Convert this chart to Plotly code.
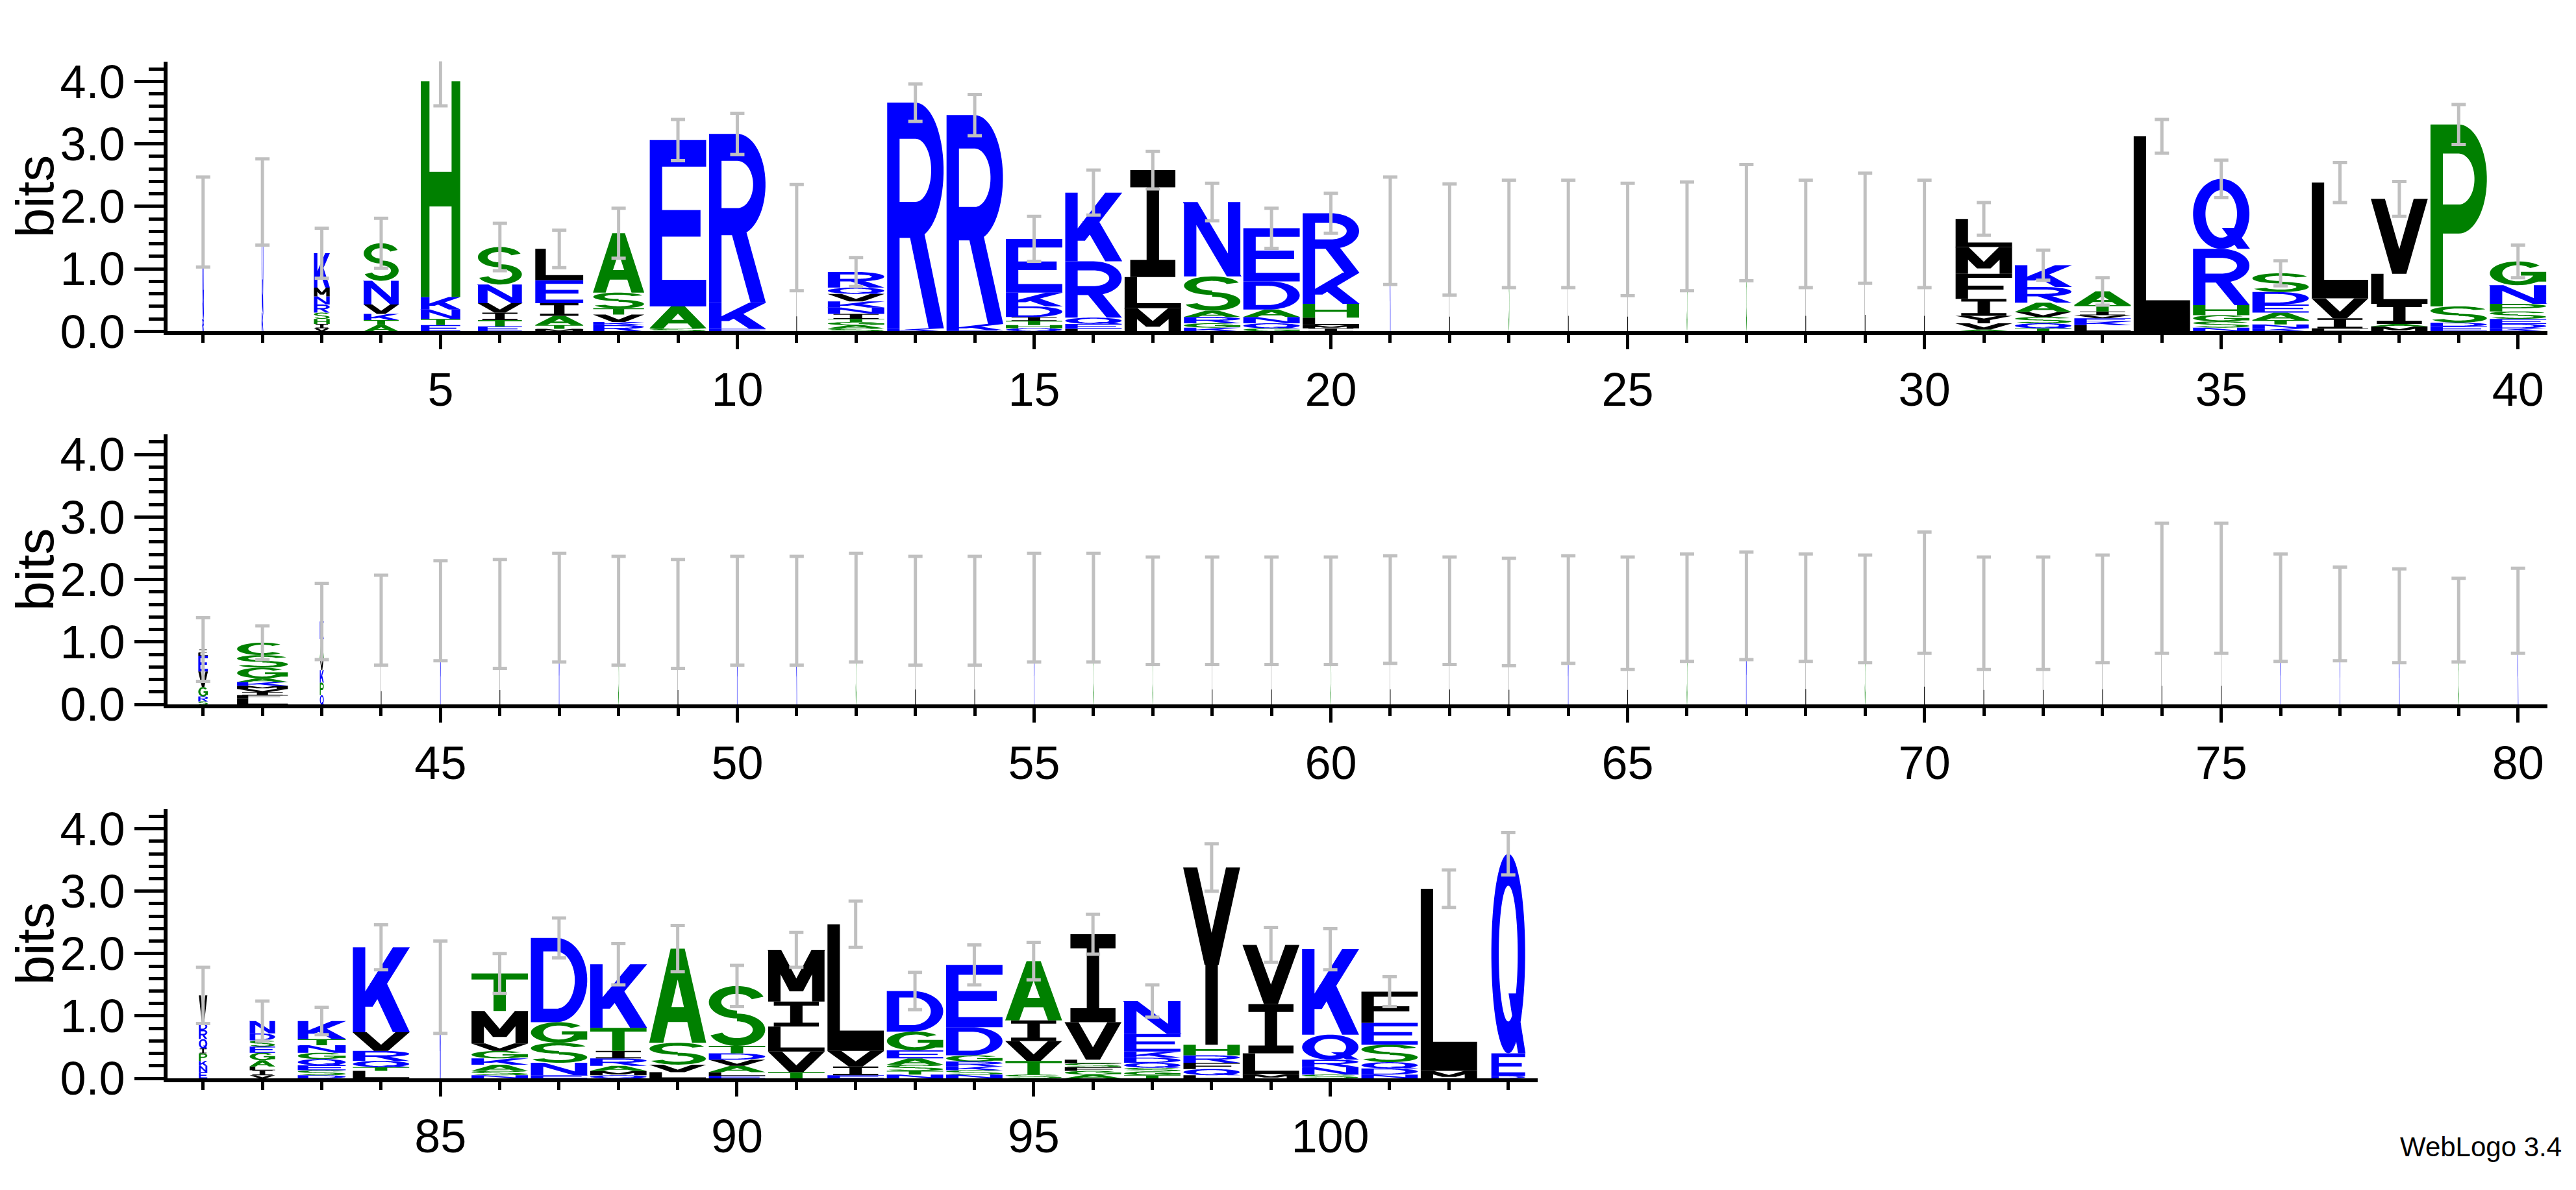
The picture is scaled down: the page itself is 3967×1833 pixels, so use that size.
import numpy as np
import plotly.graph_objects as go

# ---- data: stacks are (letter, bits) from bottom to top ----
start1 = 1
stacks1 = [
    [("R", 0.2), ("Q", 1.55)],
    [("K", 0.3), ("Q", 1.77)],
    [("V", 0.05), ("I", 0.07), ("H", 0.08), ("S", 0.1), ("R", 0.13), ("N", 0.13), ("M", 0.14), ("K", 0.55)],
    [("A", 0.1), ("T", 0.08), ("K", 0.1), ("V", 0.15), ("N", 0.38), ("S", 0.6)],
    [("E", 0.1), ("T", 0.1), ("N", 0.15), ("K", 0.2), ("H", 3.45)],
    [("E", 0.08), ("T", 0.1), ("I", 0.12), ("V", 0.15), ("N", 0.3), ("S", 0.6)],
    [("M", 0.04), ("T", 0.06), ("A", 0.15), ("I", 0.2), ("E", 0.37), ("L", 0.5)],
    [("R", 0.1), ("K", 0.05), ("V", 0.12), ("T", 0.1), ("S", 0.25), ("A", 0.95)],
    [("S", 0.05), ("A", 0.35), ("E", 2.66)],
    [("E", 0.04), ("K", 0.42), ("R", 2.7)],
    [("L", 1.5)],
    [("S", 0.05), ("A", 0.05), ("G", 0.05), ("T", 0.05), ("I", 0.08), ("N", 0.1), ("K", 0.1), ("V", 0.12), ("Q", 0.1), ("R", 0.25)],
    [("K", 0.05), ("R", 3.61)],
    [("E", 0.02), ("K", 0.1), ("R", 3.34)],
    [("Q", 0.05), ("H", 0.05), ("T", 0.07), ("I", 0.06), ("D", 0.17), ("K", 0.22), ("E", 0.86)],
    [("L", 0.04), ("E", 0.08), ("Q", 0.1), ("R", 0.9), ("K", 1.1)],
    [("M", 0.37), ("L", 0.5), ("I", 1.71)],
    [("K", 0.06), ("G", 0.07), ("R", 0.1), ("A", 0.1), ("S", 0.55), ("N", 1.19)],
    [("G", 0.05), ("Q", 0.08), ("N", 0.1), ("A", 0.12), ("D", 0.45), ("E", 0.85)],
    [("I", 0.05), ("M", 0.05), ("L", 0.12), ("H", 0.22), ("K", 0.5), ("R", 0.95)],
    [("K", 1.61)], [("L", 1.47)], [("S", 1.56)], [("L", 1.56)], [("L", 1.47)],
    [("S", 1.52)], [("S", 1.74)], [("L", 1.56)], [("L", 1.65)], [("L", 1.56)],
    [("A", 0.03), ("V", 0.1), ("Y", 0.12), ("I", 0.27), ("F", 0.4), ("M", 0.43), ("L", 0.45)],
    [("T", 0.05), ("Q", 0.08), ("S", 0.1), ("V", 0.08), ("A", 0.15), ("R", 0.25), ("K", 0.35)],
    [("L", 0.1), ("K", 0.06), ("E", 0.05), ("V", 0.05), ("I", 0.06), ("T", 0.1), ("A", 0.22)],
    [("L", 3.12)],
    [("N", 0.06), ("S", 0.1), ("G", 0.1), ("H", 0.16), ("R", 0.9), ("Q", 1.12)],
    [("K", 0.05), ("N", 0.06), ("T", 0.07), ("A", 0.12), ("E", 0.13), ("D", 0.2), ("S", 0.3)],
    [("F", 0.05), ("I", 0.16), ("V", 0.32), ("L", 1.85)],
    [("M", 0.08), ("A", 0.04), ("I", 0.32), ("L", 0.48), ("V", 1.2)],
    [("E", 0.08), ("D", 0.06), ("S", 0.26), ("P", 2.91)],
    [("K", 0.05), ("D", 0.07), ("E", 0.08), ("S", 0.12), ("P", 0.12), ("N", 0.3), ("G", 0.38)],
]
widths1 = [0.03, 0.03, 0.28, 0.62, 0.7, 0.78, 0.85, 0.9, 1, 1, 0.012, 1, 1, 1, 1, 1, 1, 1, 1, 1,
           0.012, 0.012, 0.012, 0.012, 0.012, 0.012, 0.012, 0.012, 0.012, 0.012,
           1, 1, 1, 1, 1, 1, 1, 1, 1, 1]
err1 = [0.72, 0.69, 0.4, 0.4, 0.39, 0.38, 0.3, 0.4, 0.33, 0.33, 0.85, 0.23, 0.3, 0.33, 0.36, 0.36,
        0.3, 0.3, 0.32, 0.32, 0.86, 0.89, 0.86, 0.86, 0.9, 0.87, 0.93, 0.86, 0.88, 0.86,
        0.26, 0.24, 0.22, 0.27, 0.3, 0.2, 0.32, 0.28, 0.32, 0.26]

start2 = 41
gap_letters2 = ["L", "K", "L", "K", "S", "L", "K", "K", "S", "L", "L", "K", "S", "S", "L", "L", "S",
                "L", "L", "L", "K", "L", "S", "K", "L", "S", "L", "L", "L", "L", "L", "L", "K", "K",
                "K", "S", "K"]
gap_tops2 = [1.35, 1.5, 1.45, 1.55, 1.5, 1.45, 1.5, 1.5, 1.55, 1.5, 1.5, 1.55, 1.55, 1.5, 1.5, 1.5,
             1.5, 1.52, 1.5, 1.48, 1.52, 1.46, 1.55, 1.58, 1.55, 1.53, 1.79, 1.46, 1.46, 1.53, 1.86,
             1.86, 1.55, 1.45, 1.42, 1.35, 1.5]
stacks2 = [
    [("S", 0.05), ("R", 0.08), ("G", 0.15), ("V", 0.25), ("E", 0.25), ("L", 0.05), ("I", 0.05)],
    [("L", 0.1), ("F", 0.05), ("I", 0.05), ("V", 0.05), ("M", 0.05), ("K", 0.06), ("A", 0.06),
     ("G", 0.17), ("S", 0.2), ("C", 0.2)],
    [("Q", 0.15), ("P", 0.2), ("K", 0.2), ("V", 0.2), ("A", 0.3), ("K", 0.28)],
] + [[(l, t)] for l, t in zip(gap_letters2, gap_tops2)]
widths2 = [0.17, 0.9, 0.07] + [0.012] * 37
err2 = [0.51, 0.27, 0.61, 0.72, 0.8, 0.87, 0.87, 0.87, 0.87, 0.87, 0.87, 0.87, 0.87, 0.87, 0.87,
        0.87, 0.86, 0.86, 0.86, 0.86, 0.86, 0.86, 0.86, 0.86, 0.9, 0.86, 0.86, 0.86, 0.86,
        0.97, 0.9, 0.9, 0.86, 1.04, 1.04, 0.86, 0.75, 0.75, 0.67, 0.68]

start3 = 81
stacks3 = [
    [("E", 0.1), ("N", 0.1), ("K", 0.08), ("P", 0.12), ("I", 0.08), ("Q", 0.15), ("R", 0.15), ("D", 0.1), ("V", 0.45)],
    [("V", 0.05), ("I", 0.08), ("L", 0.06), ("A", 0.1), ("G", 0.12), ("E", 0.1), ("S", 0.1), ("D", 0.11), ("N", 0.2)],
    [("D", 0.05), ("S", 0.08), ("E", 0.08), ("Q", 0.1), ("G", 0.1), ("N", 0.12), ("T", 0.1), ("K", 0.29)],
    [("L", 0.12), ("T", 0.06), ("Q", 0.1), ("R", 0.16), ("V", 0.3), ("K", 1.36)],
    [("K", 1.46)],
    [("N", 0.05), ("S", 0.07), ("A", 0.1), ("K", 0.1), ("G", 0.12), ("V", 0.12), ("M", 0.52), ("T", 0.6)],
    [("E", 0.05), ("N", 0.2), ("S", 0.32), ("G", 0.33), ("D", 1.35)],
    [("Q", 0.05), ("M", 0.07), ("A", 0.08), ("R", 0.12), ("I", 0.12), ("T", 0.37), ("K", 1.02)],
    [("L", 0.1), ("V", 0.12), ("S", 0.35), ("A", 1.51)],
    [("E", 0.04), ("L", 0.06), ("A", 0.1), ("V", 0.1), ("D", 0.1), ("T", 0.12), ("S", 0.96)],
    [("T", 0.1), ("V", 0.33), ("L", 0.4), ("I", 0.4), ("M", 0.83)],
    [("E", 0.05), ("I", 0.14), ("V", 0.25), ("L", 2.03)],
    [("N", 0.06), ("T", 0.06), ("S", 0.1), ("A", 0.1), ("E", 0.13), ("G", 0.3), ("D", 0.65)],
    [("N", 0.06), ("S", 0.07), ("K", 0.06), ("R", 0.08), ("G", 0.1), ("D", 0.45), ("E", 1.0)],
    [("S", 0.06), ("T", 0.22), ("V", 0.32), ("I", 0.33), ("A", 0.95)],
    [("A", 0.06), ("G", 0.06), ("F", 0.06), ("S", 0.06), ("L", 0.06), ("V", 0.6), ("I", 1.41)],
    [("T", 0.05), ("G", 0.06), ("S", 0.06), ("Q", 0.08), ("D", 0.08), ("K", 0.1), ("E", 0.28), ("N", 0.53)],
    [("L", 0.05), ("Q", 0.1), ("F", 0.1), ("R", 0.12), ("H", 0.17), ("Y", 2.84)],
    [("M", 0.07), ("L", 0.33), ("I", 0.79), ("V", 0.95)],
    [("S", 0.06), ("N", 0.12), ("R", 0.12), ("Q", 0.4), ("K", 1.37)],
    [("N", 0.06), ("D", 0.1), ("Q", 0.1), ("S", 0.28), ("E", 0.35), ("F", 0.5)],
    [("M", 0.12), ("L", 2.92)],
    [("D", 0.04), ("E", 0.36), ("Q", 3.2)],
]
widths3 = [0.15, 0.45, 0.85, 1, 0.02] + [1] * 17 + [0.6]
err3 = [0.45, 0.32, 0.22, 0.36, 0.74, 0.32, 0.32, 0.33, 0.37, 0.33, 0.28, 0.37, 0.3, 0.32, 0.3,
        0.32, 0.26, 0.38, 0.28, 0.33, 0.24, 0.3, 0.34]

BLUE, GREEN, BLACK = "#0000ff", "#008000", "#000000"
colors = {}
for l in "DEKRNQ":
    colors[l] = BLUE
for l in "AGSTHPC":
    colors[l] = GREEN
for l in "LIVMFYW":
    colors[l] = BLACK

# ---- simple block glyphs in a unit box ----
SX, SY = 0.22, 0.16


def rect(x0, y0, x1, y1):
    return [(x0, y0), (x1, y0), (x1, y1), (x0, y1)]


def seg(p, q, w):
    return [(p[0] - w / 2, p[1]), (p[0] + w / 2, p[1]), (q[0] + w / 2, q[1]), (q[0] - w / 2, q[1])]


def ring(cx, cy, rx, ry, tx, ty, a0, a1, n=36):
    t = np.radians(np.linspace(a0, a1, n))
    outer = [(cx + rx * np.cos(a), cy + ry * np.sin(a)) for a in t]
    inner = [(cx + (rx - tx) * np.cos(a), cy + (ry - ty) * np.sin(a)) for a in t[::-1]]
    return outer + inner


P_bowl = [rect(0, 0, SX, 1), rect(0, 1 - SY, 0.5, 1), rect(0, 0.4, 0.5, 0.4 + SY),
          ring(0.5, 0.7, 0.5, 0.3, SX, SY, -90, 90)]
GLYPHS = {
    "A": [seg((0.12, 0), (0.5, 1), 0.25), seg((0.88, 0), (0.5, 1), 0.25), rect(0.25, 0.22, 0.75, 0.22 + SY)],
    "C": [ring(0.5, 0.5, 0.5, 0.5, SX, SY, 45, 315)],
    "D": [rect(0, 0, SX, 1), rect(0, 0, 0.45, SY), rect(0, 1 - SY, 0.45, 1),
          ring(0.45, 0.5, 0.55, 0.5, SX, SY, -90, 90)],
    "E": [rect(0, 0, SX, 1), rect(0, 0, 1, SY), rect(0, 1 - SY, 1, 1), rect(0, 0.5 - SY / 2, 0.9, 0.5 + SY / 2)],
    "F": [rect(0, 0, SX, 1), rect(0, 1 - SY, 1, 1), rect(0, 0.45 - SY / 2, 0.85, 0.45 + SY / 2)],
    "G": [ring(0.5, 0.5, 0.5, 0.5, SX, SY, 40, 360), rect(0.55, 0.4, 1, 0.4 + SY), rect(1 - SX, 0.15, 1, 0.5)],
    "H": [rect(0, 0, SX, 1), rect(1 - SX, 0, 1, 1), rect(0, 0.5 - SY / 2, 1, 0.5 + SY / 2)],
    "I": [rect(0.5 - SX / 2, 0, 0.5 + SX / 2, 1), rect(0.1, 0, 0.9, SY), rect(0.1, 1 - SY, 0.9, 1)],
    "K": [rect(0, 0, SX, 1), seg((0.2, 0.3), (0.86, 1), 0.3), seg((0.45, 0.58), (0.86, 0), 0.3)],
    "L": [rect(0, 0, SX, 1), rect(0, 0, 1, SY)],
    "M": [rect(0, 0, SX, 1), rect(1 - SX, 0, 1, 1), seg((0.11, 1), (0.5, 0.2), 0.24), seg((0.89, 1), (0.5, 0.2), 0.24)],
    "N": [rect(0, 0, SX, 1), rect(1 - SX, 0, 1, 1), seg((0.11, 1), (0.89, 0), 0.26)],
    "P": P_bowl,
    "Q": [ring(0.5, 0.5, 0.5, 0.5, SX, SY, 90, 270), ring(0.5, 0.5, 0.5, 0.5, SX, SY, 270, 450),
          seg((0.62, 0.3), (0.9, 0), 0.22)],
    "R": P_bowl + [seg((0.5, 0.45), (0.87, 0), 0.27)],
    "S": [ring(0.5, 0.73, 0.5, 0.27, SX, 0.13, 20, 270), ring(0.5, 0.27, 0.5, 0.27, SX, 0.13, 90, -160)],
    "T": [rect(0, 1 - SY, 1, 1), rect(0.5 - SX / 2, 0, 0.5 + SX / 2, 1)],
    "V": [seg((0.12, 1), (0.5, 0), 0.25), seg((0.88, 1), (0.5, 0), 0.25)],
    "W": [seg((0.08, 1), (0.28, 0), 0.16), seg((0.5, 1), (0.28, 0), 0.16),
          seg((0.5, 1), (0.72, 0), 0.16), seg((0.92, 1), (0.72, 0), 0.16)],
    "Y": [seg((0.12, 1), (0.5, 0.45), 0.25), seg((0.88, 1), (0.5, 0.45), 0.25), rect(0.5 - SX / 2, 0, 0.5 + SX / 2, 0.5)],
}


def ccw(poly):
    a = sum(x0 * y1 - x1 * y0 for (x0, y0), (x1, y1) in zip(poly, poly[1:] + poly[:1]))
    return poly if a > 0 else poly[::-1]


def glyph_path(letter, xc, w, y0, h):
    parts = []
    for poly in GLYPHS[letter]:
        pts = [(xc + (u - 0.5) * w, y0 + v * h) for u, v in ccw(poly)]
        parts.append("M" + "L".join(f"{x:.4f},{y:.4f}" for x, y in pts) + "Z")
    return "".join(parts)


fig = go.Figure()
shapes = []
panels = [(1, start1, stacks1, widths1, err1, [0.4, 40.5], [0.063, 0.987], [0.723, 0.956]),
          (2, start2, stacks2, widths2, err2, [40.4, 80.5], [0.063, 0.987], [0.401, 0.634]),
          (3, start3, stacks3, widths3, err3, [80.4, 103.5], [0.063, 0.595], [0.0784, 0.311])]

for k, start, stacks, widths, errs, xr, xd, yd in panels:
    sfx = "" if k == 1 else str(k)
    xs, tops = [], []
    for i, stack in enumerate(stacks):
        pos = start + i
        w = 0.95 * widths[i]
        y = 0.0
        for letter, h in stack:
            shapes.append(dict(type="path", path=glyph_path(letter, pos, w, y, h),
                               xref="x" + sfx, yref="y" + sfx, fillcolor=colors[letter],
                               fillrule="nonzero", line=dict(width=0), layer="below"))
            y += h
        xs.append(pos)
        tops.append(y)
    fig.add_trace(go.Scatter(x=xs, y=tops, mode="markers", marker=dict(size=1, opacity=0),
                             error_y=dict(type="data", array=errs, color="#c0c0c0", thickness=5, width=11),
                             xaxis="x" + sfx, yaxis="y" + sfx, showlegend=False, hoverinfo="skip"))
    fig.layout["xaxis" + sfx] = dict(
        domain=xd, range=xr, anchor="y" + sfx, showline=True, linecolor="black", linewidth=6,
        ticks="outside", ticklen=22, tickwidth=5, tickcolor="black", tick0=0, dtick=5,
        minor=dict(dtick=1, tick0=0, ticklen=12, tickwidth=5, tickcolor="black", ticks="outside"),
        showgrid=False, zeroline=False, tickfont=dict(size=72, color="black"))
    fig.layout["yaxis" + sfx] = dict(
        domain=yd, range=[0, 4.32], anchor="x" + sfx, showline=True, linecolor="black", linewidth=6,
        ticks="outside", ticklen=45, tickwidth=5, tickcolor="black", dtick=1, tickformat=".1f",
        minor=dict(dtick=0.2, ticklen=23, tickwidth=5, tickcolor="black", ticks="outside"),
        showgrid=False, zeroline=False, tickfont=dict(size=72, color="black"),
        title=dict(text="bits", font=dict(size=82, color="black"), standoff=25))

fig.update_layout(
    shapes=shapes, width=3967, height=1833, plot_bgcolor="white", paper_bgcolor="white",
    margin=dict(l=0, r=0, t=0, b=0), font=dict(family="Liberation Sans, Arial, sans-serif"),
    annotations=[dict(text="WebLogo 3.4", x=0.993, y=0.005, xref="paper", yref="paper",
                      xanchor="right", yanchor="bottom", showarrow=False,
                      font=dict(size=42, color="black"))])

fig.write_html("out.html")
